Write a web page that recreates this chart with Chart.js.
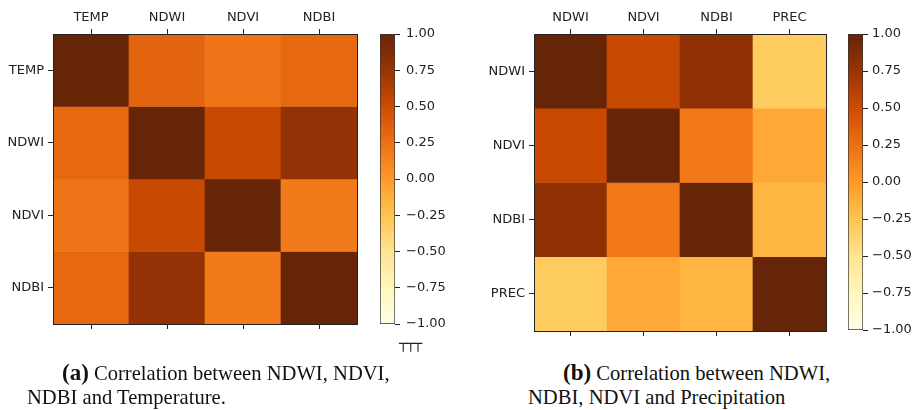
<!DOCTYPE html>
<html lang="en">
<head>
<meta charset="UTF-8">
<title>Correlation heatmaps</title>
<script src="https://cdn.jsdelivr.net/npm/chart.js@4.4.0/dist/chart.umd.min.js"></script>
<style>
  * { box-sizing: border-box; margin: 0; padding: 0; }
  body { width: 918px; height: 410px; background: #fff; position: relative; overflow: hidden; }
  .box { position: absolute; }
  .cap { position: absolute; font-family: 'Liberation Serif', 'Times New Roman', serif; font-size: 20.6px; line-height: 22px; color: #111; white-space: nowrap; }
  .cap b { font-size: 23px; }
  .mark { position: absolute; left: 399px; top: 335px; font-family: 'DejaVu Sans Mono', monospace; font-size: 14px; font-weight: bold; color: #222; letter-spacing: -1px; }
</style>
</head>
<body>
<div class="box" style="left:0;top:0;width:370px;height:340px"><canvas id="heatA"></canvas></div>
<div class="box" style="left:375px;top:0;width:75px;height:340px"><canvas id="barA"></canvas></div>
<div class="box" style="left:460px;top:0;width:380px;height:347px"><canvas id="heatB"></canvas></div>
<div class="box" style="left:843px;top:0;width:75px;height:347px"><canvas id="barB"></canvas></div>
<div class="mark">┬┬┬</div>

<div class="cap" style="left:62px;top:362px"><b>(a)</b> Correlation between NDWI, NDVI,</div>
<div class="cap" style="left:27px;top:386px">NDBI and Temperature.</div>
<div class="cap" style="left:563px;top:362px"><b>(b)</b> Correlation between NDWI,</div>
<div class="cap" style="left:528px;top:386px">NDBI, NDVI and Precipitation</div>

<script>
// (a) 気温との相関
const varsA = ['TEMP', 'NDWI', 'NDVI', 'NDBI'];
const corrTemp = [1.00, 0.33, 0.22, 0.30];
const corrNdwiA = [0.30, 1.00, 0.52, 0.78];
const corrNdviA = [0.22, 0.52, 1.00, 0.18];
const corrNdbiA = [0.30, 0.78, 0.18, 1.00];

// (b) 降水量との相関
const varsB = ['NDWI', 'NDVI', 'NDBI', 'PREC'];
const corrNdwiB = [1.00, 0.52, 0.80, -0.31];
const corrNdviB = [0.52, 1.00, 0.20, -0.09];
const corrNdbiB = [0.80, 0.20, 1.00, -0.16];
const corrPrec = [-0.31, -0.09, -0.16, 1.00];

// colorbar
const cbarRange = [-1, 1];
const cbarStep = 0.25;

// matplotlib YlOrBr
const ylOrBr = ['#ffffe5', '#fff7bc', '#fee391', '#fec44f', '#fe9929', '#ec7014', '#cc4c02', '#993404', '#662506'];

function hexRgb(h) {
  return [1, 3, 5].map(i => parseInt(h.slice(i, i + 2), 16));
}
function colorFor(v) {
  const t = Math.min(1, Math.max(0, (v - cbarRange[0]) / (cbarRange[1] - cbarRange[0])));
  const p = t * (ylOrBr.length - 1);
  const i = Math.min(ylOrBr.length - 2, Math.floor(p));
  const f = p - i;
  const a = hexRgb(ylOrBr[i]), b = hexRgb(ylOrBr[i + 1]);
  return `rgb(${a.map((c, k) => Math.round(c + (b[k] - c) * f)).join(',')})`;
}

Chart.defaults.font.family = "'DejaVu Sans', sans-serif";
Chart.defaults.font.size = 13;
Chart.defaults.color = '#222';
Chart.defaults.animation = false;

const INK = '#222';

// 枠線
const framePlugin = {
  id: 'frame',
  afterDraw(chart) {
    const { ctx, chartArea: a } = chart;
    ctx.save();
    ctx.strokeStyle = INK;
    ctx.lineWidth = 1;
    ctx.strokeRect(Math.round(a.left) + 0.5, Math.round(a.top) + 0.5, Math.round(a.right - a.left), Math.round(a.bottom - a.top));
    ctx.restore();
  }
};

function heatmap(id, vars, rows, sizes) {
  const tickGrid = { display: true, drawOnChartArea: false, offset: false, tickLength: 5, color: INK };
  return new Chart(document.getElementById(id), {
    type: 'bar',
    data: {
      labels: vars,
      datasets: rows.map((r, i) => ({
        label: vars[i],
        data: vars.map(() => 1),
        backgroundColor: r.map(colorFor),
        borderWidth: 0,
        barPercentage: 1,
        categoryPercentage: 1,
      }))
    },
    options: {
      responsive: true,
      maintainAspectRatio: false,
      layout: { padding: { right: sizes.right } },
      plugins: { legend: { display: false }, tooltip: { enabled: false } },
      scales: {
        x: {
          position: 'top', stacked: true, offset: true,
          grid: tickGrid, border: { display: false },
          ticks: { padding: 4, maxRotation: 0 },
          afterFit: s => { s.height = 34; }
        },
        x2: {
          type: 'category', position: 'bottom', offset: true,
          grid: tickGrid, border: { display: false },
          ticks: { callback: () => '' },
          afterFit: s => { s.height = sizes.bottom; }
        },
        y: {
          type: 'linear', min: 0, max: vars.length, reverse: true, stacked: true,
          grid: tickGrid, border: { display: false },
          afterBuildTicks: s => { s.ticks = vars.map((v, i) => ({ value: i + 0.5 })); },
          ticks: { padding: 4, callback: v => vars[Math.floor(v)] },
          afterFit: s => { s.width = sizes.left; }
        }
      }
    },
    plugins: [framePlugin]
  });
}

function colorbar(id, bottom, pad) {
  const ticks = [];
  for (let v = cbarRange[0]; v <= cbarRange[1] + 1e-9; v += cbarStep) ticks.push(v);
  return new Chart(document.getElementById(id), {
    type: 'bar',
    data: {
      labels: [''],
      datasets: [{
        data: [cbarRange],
        backgroundColor: ctx => {
          const a = ctx.chart.chartArea;
          if (!a) return ylOrBr[4];
          const g = ctx.chart.ctx.createLinearGradient(0, a.bottom, 0, a.top);
          ylOrBr.forEach((c, i) => g.addColorStop(i / (ylOrBr.length - 1), c));
          return g;
        },
        borderColor: '#333',
        borderWidth: 1,
        borderSkipped: false,
        barPercentage: 1,
        categoryPercentage: 1,
      }]
    },
    options: {
      responsive: true,
      maintainAspectRatio: false,
      layout: { padding: { left: 5, top: 34, bottom: bottom } },
      plugins: { legend: { display: false }, tooltip: { enabled: false } },
      scales: {
        x: { display: false },
        y: {
          position: 'right', min: cbarRange[0], max: cbarRange[1],
          grid: { drawOnChartArea: false, tickLength: 5, color: INK },
          border: { display: false },
          afterBuildTicks: s => { s.ticks = ticks.map(v => ({ value: v })); },
          ticks: { padding: pad, callback: v => (v < 0 ? '\u2212' : '') + Math.abs(v).toFixed(2) },
          afterFit: s => { s.width = 55; }
        }
      }
    }
  });
}

heatmap('heatA', varsA, [corrTemp, corrNdwiA, corrNdviA, corrNdbiA], { left: 53, right: 13, bottom: 16 });
colorbar('barA', 16, 6);
heatmap('heatB', varsB, [corrNdwiB, corrNdviB, corrNdbiB, corrPrec], { left: 74, right: 14, bottom: 16 });
colorbar('barB', 17, 4);
</script>
</body>
</html>
